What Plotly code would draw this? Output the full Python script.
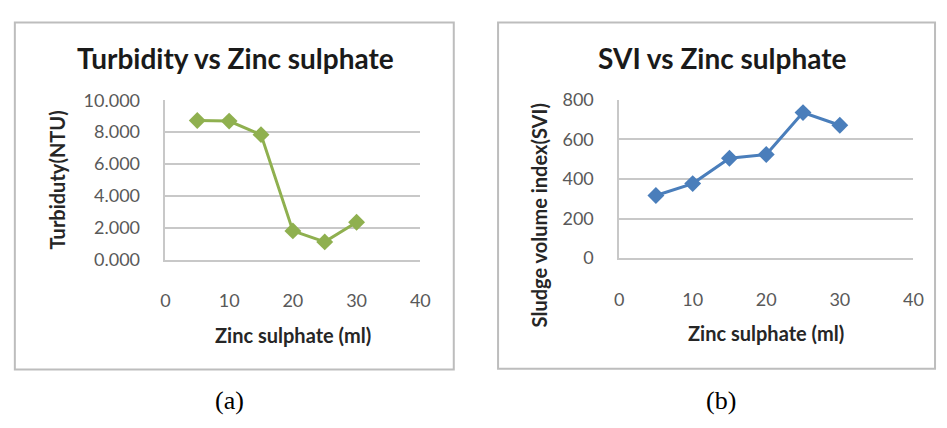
import plotly.graph_objects as go

# Data
zinc_ml = [5, 10, 15, 20, 25, 30]
turbidity_ntu = [8.73, 8.69, 7.84, 1.80, 1.11, 2.34]
svi = [317, 377, 505, 524, 736, 672]
x_ticks = [0, 10, 20, 30, 40]
turb_ticks = [0, 2, 4, 6, 8, 10]
svi_ticks = [0, 200, 400, 600, 800]

W, H = 947, 428
def px(x): return x / W
def py(y): return 1 - y / H

FONT = "Lato"
GREEN = "#8FB04F"
BLUE = "#4A7EBB"
GRID = "#C8C8C8"
TICKC = "#595959"

fig = go.Figure()
fig.add_trace(go.Scatter(x=zinc_ml, y=turbidity_ntu, mode="lines+markers",
                         line=dict(color=GREEN, width=3),
                         marker=dict(symbol="diamond", size=13, color=GREEN),
                         xaxis="x", yaxis="y", showlegend=False))
fig.add_trace(go.Scatter(x=zinc_ml, y=svi, mode="lines+markers",
                         line=dict(color=BLUE, width=3),
                         marker=dict(symbol="diamond", size=13, color=BLUE),
                         xaxis="x2", yaxis="y2", showlegend=False))

axcommon = dict(zeroline=False, showline=True, linecolor=GRID, linewidth=1.5,
                ticks="", tickfont=dict(family=FONT, size=18, color=TICKC), fixedrange=True)

fig.update_layout(
    width=W, height=H, margin=dict(l=0, r=0, t=0, b=0),
    paper_bgcolor="white", plot_bgcolor="white",
    xaxis=dict(domain=[px(163), px(422)], range=[0, 40], tickvals=x_ticks,
               anchor="y", ticklabelstandoff=24, showgrid=False, **axcommon),
    yaxis=dict(domain=[py(261), py(93)], range=[0, 10], tickvals=turb_ticks,
               tickformat=".3f", anchor="x", showgrid=True, gridcolor=GRID, gridwidth=1.5,
               ticklabelstandoff=20, **axcommon),
    xaxis2=dict(domain=[px(624), px(923)], range=[0, 40], tickvals=x_ticks,
                anchor="y2", ticklabelstandoff=24, showgrid=False, **axcommon),
    yaxis2=dict(domain=[py(259.5), py(92.7)], range=[0, 800], tickvals=svi_ticks,
                anchor="x2", showgrid=True, gridcolor=GRID, gridwidth=1.5,
                ticklabelstandoff=20, **axcommon),
)

# chart borders
fig.add_shape(type="rect", xref="paper", yref="paper", x0=px(10), x1=px(456), y0=py(377), y1=py(11),
              line=dict(color="#BDBDBD", width=2))
fig.add_shape(type="rect", xref="paper", yref="paper", x0=px(501), x1=px(945), y0=py(376), y1=py(11),
              line=dict(color="#BDBDBD", width=2))

def ann(text, x, y, size, bold=False, color="#1a1a1a", angle=0, family=FONT):
    fig.add_annotation(text=f"<b>{text}</b>" if bold else text, x=px(x), y=py(y),
                       xref="paper", yref="paper", showarrow=False, textangle=angle,
                       xanchor="center", yanchor="middle",
                       font=dict(family=family, size=size, color=color))

ann("Turbidity vs Zinc sulphate", 234.5, 48, 28, bold=True)
ann("SVI vs Zinc sulphate", 729.5, 48, 28, bold=True)
ann("Zinc sulphate (ml)", 292.5, 340, 20, bold=True, color="#262626")
ann("Zinc sulphate (ml)", 773.5, 338, 20, bold=True, color="#262626")
ann("Turbiduty(NTU)", 53, 177.5, 20, bold=True, color="#262626", angle=-90)
ann("Sludge volume index(SVI)", 543, 214, 20, bold=True, color="#262626", angle=-90)
ann("(a)", 228, 410, 26, color="black", family="Liberation Serif")
ann("(b)", 728, 410, 26, color="black", family="Liberation Serif")

fig.write_html("out.html", post_script="document.body.style.margin='0px';",
               config={"displayModeBar": False})
